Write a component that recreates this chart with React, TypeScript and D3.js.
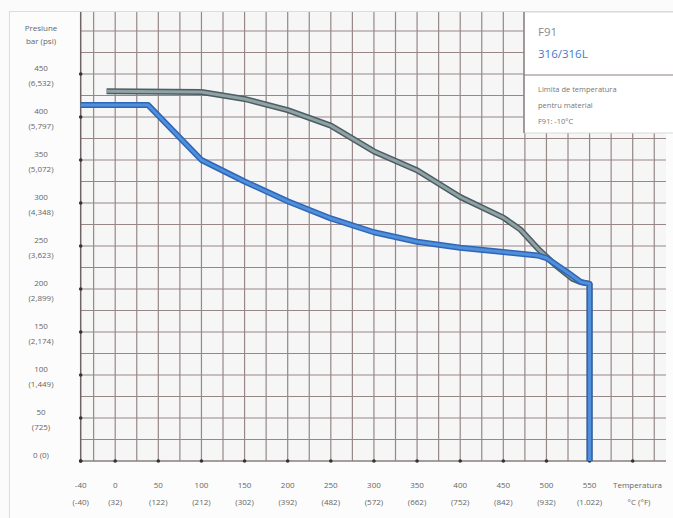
import React from "react";
import * as d3 from "d3";

const f91Temps = [-10, 100, 150, 200, 250, 300, 350, 400, 450, 470, 490, 510, 530, 540, 550, 550];
const f91Press = [430, 429, 421, 408, 390, 360, 338, 307, 283, 269, 247, 228, 212, 208, 206, 0];
const ssTemps = [-40, 38, 100, 150, 200, 250, 300, 350, 400, 450, 490, 500, 525, 540, 550, 550];
const ssPress = [414, 414, 350, 325, 302, 282, 266, 255, 248, 243, 239, 236, 219, 208, 206, 0];

const xTicks = [-40, 0, 50, 100, 150, 200, 250, 300, 350, 400, 450, 500, 550];
const xTickF = ["(-40)", "(32)", "(122)", "(212)", "(302)", "(392)", "(482)", "(572)", "(662)", "(752)", "(842)", "(932)", "(1.022)"];
const yTicks = [0, 50, 100, 150, 200, 250, 300, 350, 400, 450];
const yTickPsi = ["", "(725)", "(1,449)", "(2,174)", "(2,899)", "(3,623)", "(4,348)", "(5,072)", "(5,797)", "(6,532)"];

export default function App() {
  const x = d3.scaleLinear().domain([-40, 600]).range([80.7, 632.7]);
  const y = d3.scaleLinear().domain([0, 450]).range([461, 74]);
  const line = d3.line<[number, number]>().x((d) => x(d[0])).y((d) => y(d[1])).curve(d3.curveLinear);
  const f91 = line(f91Temps.map((t, i) => [t, f91Press[i]]))!;
  const ss = line(ssTemps.map((t, i) => [t, ssPress[i]]))!;

  const vGrid = d3.range(-25, 650, 25);
  const hGrid = d3.range(25, 525, 25);
  const dots = [-40].concat(d3.range(0, 650, 50));
  const font = "'Open Sans', 'DejaVu Sans', sans-serif";
  const top = 12;
  const right = 666;

  return (
    <svg width={673} height={518} style={{ position: "absolute", left: 0, top: 0 }} fontFamily={font}>
      <rect x={0} y={0} width={673} height={518} fill="#fbfbfb" />
      <rect x={9.5} y={top - 0.5} width={670} height={515} fill="#fcfcfc" stroke="#dcdcdc" />
      <rect x={x(-40)} y={top} width={right - x(-40)} height={y(0) - top} fill="#f6f6f6" />
      {vGrid.map((t) => (
        <line key={"v" + t} x1={x(t)} x2={x(t)} y1={top} y2={y(0)} stroke="#978787" strokeWidth={1.2} />
      ))}
      {hGrid.map((p) => (
        <line key={"h" + p} x1={x(-40)} x2={right} y1={y(p)} y2={y(p)} stroke="#978787" strokeWidth={1.2} />
      ))}
      <line x1={x(-40)} x2={x(-40)} y1={top} y2={y(0)} stroke="#6f6565" strokeWidth={1.5} />
      <line x1={x(-40)} x2={right} y1={y(0)} y2={y(0)} stroke="#8a7e7e" strokeWidth={1.5} />
      {yTicks.map((p) => (
        <circle key={"yd" + p} cx={x(-40)} cy={y(p)} r={1.8} fill="#333" />
      ))}
      {dots.map((t) => (
        <circle key={"xd" + t} cx={x(t)} cy={y(0)} r={1.8} fill="#333" />
      ))}

      {/* series */}
      <path d={f91} fill="none" stroke="#4d5d61" strokeWidth={6} strokeLinejoin="round" />
      <path d={f91} fill="none" stroke="#8fa2a6" strokeWidth={3} strokeLinejoin="round" />
      <path d={ss} fill="none" stroke="#2f66b6" strokeWidth={6} strokeLinejoin="round" />
      <path d={ss} fill="none" stroke="#4f8fdb" strokeWidth={3} strokeLinejoin="round" />

      {/* y labels */}
      <g fill="#666" fontSize={8} textAnchor="middle">
        <text x={41} y={31}>Presiune</text>
        <text x={41} y={44}>bar (psi)</text>
        {yTicks.map((p, i) =>
          p === 0 ? (
            <text key={"yl" + p} x={41} y={y(p) - 3}>0 (0)</text>
          ) : (
            <g key={"yl" + p}>
              <text x={41} y={y(p) - 3}>{p}</text>
              <text x={41} y={y(p) + 12}>{yTickPsi[i]}</text>
            </g>
          )
        )}
        {xTicks.map((t, i) => (
          <g key={"xl" + t}>
            <text x={x(t)} y={488}>{t}</text>
            <text x={x(t)} y={505}>{xTickF[i]}</text>
          </g>
        ))}
        <text x={613} y={488} textAnchor="start">Temperatura</text>
        <text x={639} y={505}>°C (°F)</text>
      </g>

      {/* legend box */}
      <rect x={524} y={top} width={150} height={121} fill="#ffffff" stroke="#d8d8d8" />
      <line x1={524} x2={524} y1={top} y2={133} stroke="#8a7e7e" strokeWidth={1.5} />
      <line x1={524} x2={673} y1={75} y2={75} stroke="#8a7e7e" strokeWidth={1.2} />
      <text x={538} y={36} fontSize={11.5} fill="#8a8a8a">F91</text>
      <text x={538} y={58} fontSize={11.5} fill="#3f7cc6">316/316L</text>
      <g fontSize={7.5} fill="#777">
        <text x={538} y={92}>Limita de temperatura</text>
        <text x={538} y={108}>pentru material</text>
        <text x={538} y={124}>F91: -10°C</text>
      </g>
    </svg>
  );
}
